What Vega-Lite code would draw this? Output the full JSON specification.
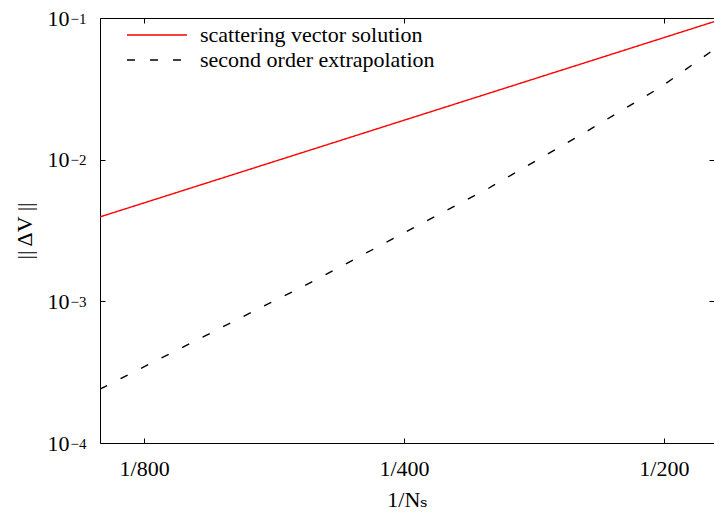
{
  "$schema": "https://vega.github.io/schema/vega-lite/v6.json",
  "width": 614,
  "height": 425,
  "autosize": {"type": "none"},
  "padding": {"left": 100, "top": 18, "right": 0, "bottom": 78},
  "config": {
    "view": {"stroke": "#000000", "strokeWidth": 1},
    "font": "'Liberation Serif', 'DejaVu Serif', serif",
    "axis": {
      "domain": false,
      "grid": false,
      "tickColor": "#000000",
      "tickSize": -5,
      "tickWidth": 1,
      "labelColor": "#000000",
      "labelFont": "'Liberation Serif', 'DejaVu Serif', serif",
      "labelFontSize": 22,
      "titleFont": "'Liberation Serif', 'DejaVu Serif', serif",
      "titleFontSize": 22,
      "titleFontWeight": "normal",
      "titleColor": "#000000"
    },
    "legend": {
      "orient": "none",
      "legendX": 46,
      "legendY": 6,
      "symbolType": "M-3,0H3",
      "symbolSize": 400,
      "symbolStrokeWidth": 1.4,
      "labelFont": "'Liberation Serif', 'DejaVu Serif', serif",
      "labelFontSize": 22,
      "labelColor": "#000000",
      "labelOffset": 32,
      "labelLimit": 0,
      "rowPadding": 3
    }
  },
  "data": {
    "values": [
      {"series": "scattering vector solution", "x": 0.0011111, "y": 0.003945},
      {"series": "scattering vector solution", "x": 0.00125, "y": 0.004956},
      {"series": "scattering vector solution", "x": 0.0025, "y": 0.01898},
      {"series": "scattering vector solution", "x": 0.005, "y": 0.0727},
      {"series": "scattering vector solution", "x": 0.0057143, "y": 0.0942},
      {"series": "second order extrapolation", "x": 0.0011111, "y": 0.000240},
      {"series": "second order extrapolation", "x": 0.001749, "y": 0.000975},
      {"series": "second order extrapolation", "x": 0.001915, "y": 0.001285},
      {"series": "second order extrapolation", "x": 0.0025, "y": 0.00304},
      {"series": "second order extrapolation", "x": 0.003136, "y": 0.00631},
      {"series": "second order extrapolation", "x": 0.00404, "y": 0.01543},
      {"series": "second order extrapolation", "x": 0.00496, "y": 0.0326},
      {"series": "second order extrapolation", "x": 0.0057143, "y": 0.0600}
    ]
  },
  "layer": [
    {
      "mark": {"type": "line", "strokeWidth": 1.4, "clip": true},
      "encoding": {
        "x": {
          "field": "x", "type": "quantitative",
          "scale": {"type": "log", "domain": [0.0011111, 0.0057143]},
          "axis": {
            "orient": "bottom",
            "values": [0.00125, 0.0025, 0.005],
            "labelExpr": "'1/' + round(1/datum.value)",
            "labelPadding": 20,
            "title": "1/Nₛ",
            "titlePadding": 10
          }
        },
        "y": {
          "field": "y", "type": "quantitative",
          "scale": {"type": "log", "domain": [0.0001, 0.1]},
          "axis": {
            "orient": "left",
            "values": [0.1, 0.01, 0.001, 0.0001],
            "labelExpr": "'10'",
            "labelPadding": 36,
            "labelDy": 3,
            "title": "|| ΔV ||",
            "titlePadding": 11
          }
        },
        "color": {
          "field": "series", "type": "nominal",
          "scale": {"domain": ["scattering vector solution", "second order extrapolation"], "range": ["#ff0000", "#000000"]},
          "legend": {"title": null}
        },
        "strokeDash": {
          "field": "series", "type": "nominal",
          "scale": {"domain": ["scattering vector solution", "second order extrapolation"], "range": [[1, 0], [8, 15]]},
          "legend": {"title": null}
        }
      }
    },
    {
      "mark": {"type": "line", "opacity": 0},
      "encoding": {
        "x": {
          "field": "x", "type": "quantitative",
          "scale": {"type": "log", "domain": [0.0011111, 0.0057143]},
          "axis": {"orient": "top", "values": [0.00125, 0.0025, 0.005], "labels": false, "title": null}
        },
        "y": {
          "field": "y", "type": "quantitative",
          "scale": {"type": "log", "domain": [0.0001, 0.1]},
          "axis": {"orient": "right", "values": [0.1, 0.01, 0.001, 0.0001], "labels": false, "title": null}
        },
        "detail": {"field": "series"}
      }
    },
    {
      "mark": {"type": "line", "opacity": 0},
      "encoding": {
        "x": {
          "field": "x", "type": "quantitative",
          "scale": {"type": "log", "domain": [0.0011111, 0.0057143]},
          "axis": null
        },
        "y": {
          "field": "y", "type": "quantitative",
          "scale": {"type": "log", "domain": [0.0001, 0.1]},
          "axis": {
            "orient": "left",
            "values": [0.1, 0.01, 0.001, 0.0001],
            "labelExpr": "datum.value > 0.05 ? '−1' : datum.value > 0.005 ? '−2' : datum.value > 0.0005 ? '−3' : '−4'",
            "labelAlign": "left",
            "labelFontSize": 15,
            "labelPadding": 30,
            "labelDy": -6,
            "ticks": false,
            "tickSize": 0,
            "title": null
          }
        },
        "detail": {"field": "series"}
      }
    }
  ],
  "resolve": {"axis": {"x": "independent", "y": "independent"}}
}
